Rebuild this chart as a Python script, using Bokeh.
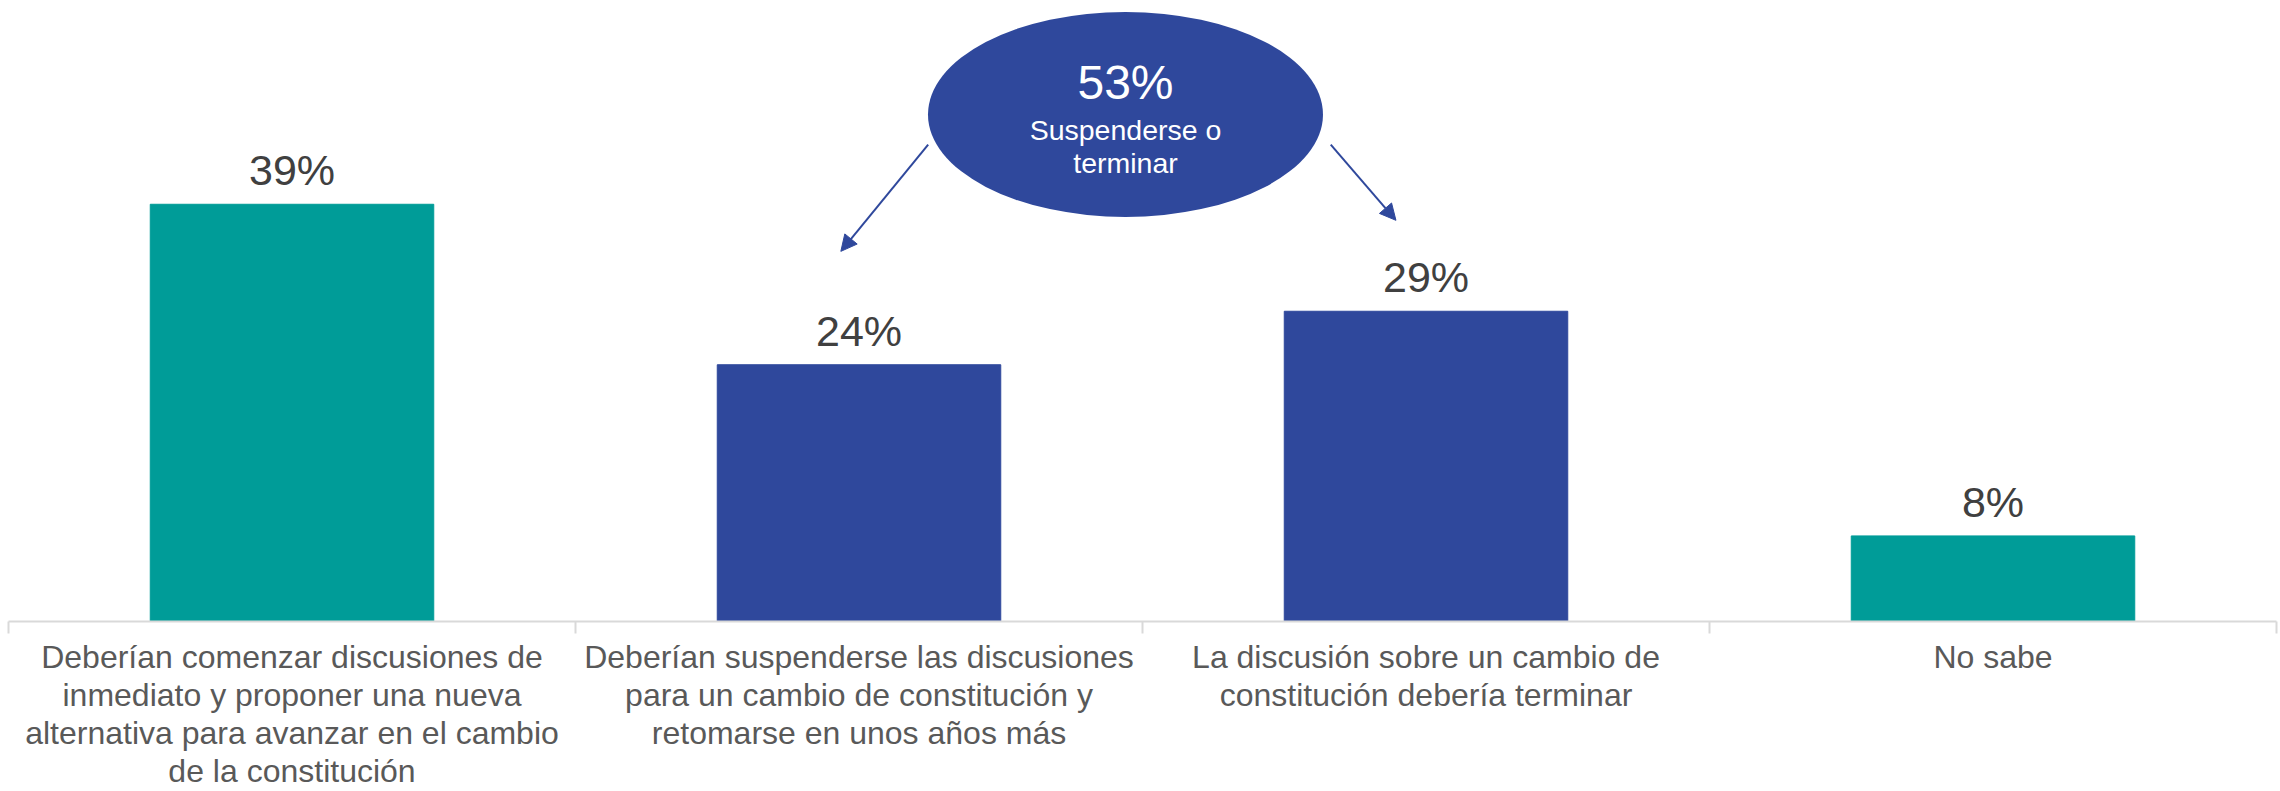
from bokeh.plotting import figure
from bokeh.models import ColumnDataSource, FixedTicker, Range1d, Arrow, NormalHead, LinearAxis
from bokeh.core.properties import value
from bokeh.embed import file_html
from bokeh.resources import INLINE

categories = [
    "Deberían comenzar discusiones de\ninmediato y proponer una nueva\nalternativa para avanzar en el cambio\nde la constitución",
    "Deberían suspenderse las discusiones\npara un cambio de constitución y\nretomarse en unos años más",
    "La discusión sobre un cambio de\nconstitución debería terminar",
    "No sabe",
]
values = [39, 24, 29, 8]
colors = ["#009C98", "#2F489C", "#2F489C", "#009C98"]
suspend_idx = [1, 2]
bubble_title = "Suspenderse o\nterminar"

FONT = "Liberation Sans"
BLUE = "#2F489C"

xs = list(range(len(values)))
src = ColumnDataSource(dict(x=xs, top=values, color=colors,
                            label=[f"{v}%" for v in values]))

p = figure(width=2280, height=791, output_backend="svg", toolbar_location=None,
           x_range=Range1d(-0.5, len(values) - 0.5), y_range=Range1d(0, 57.3),
           min_border_left=8, min_border_right=4, min_border_top=8, min_border_bottom=160,
           x_axis_location=None, y_axis_location=None)
p.outline_line_color = None
p.grid.visible = False
p.background_fill_color = "white"
p.border_fill_color = "white"

p.vbar(x="x", top="top", width=0.5, bottom=0, color="color", source=src)
p.text(x="x", y="top", text="label", source=src, text_align="center",
       text_baseline="bottom", y_offset=-10, text_font=value(FONT),
       text_font_size="43px", text_color="#404040")

ax = LinearAxis()
ax.ticker = FixedTicker(ticks=xs, minor_ticks=[i - 0.5 for i in range(len(values) + 1)])
ax.major_label_overrides = {i: c for i, c in zip(xs, categories)}
ax.axis_line_color = "#D9D9D9"
ax.axis_line_width = 2
ax.major_tick_line_color = None
ax.major_tick_out = 0
ax.major_tick_in = 0
ax.minor_tick_line_color = "#D9D9D9"
ax.minor_tick_line_width = 2
ax.minor_tick_out = 12
ax.minor_tick_in = 0
ax.major_label_standoff = 5
ax.major_label_text_font = FONT
ax.major_label_text_font_size = "32px"
ax.major_label_text_color = "#595959"
ax.major_label_text_line_height = 1.06
p.add_layout(ax, "below")

# bubble summarizing suspend + terminate
cx = sum(suspend_idx) / len(suspend_idx) - 0.03
cy = 47.4
total = sum(values[i] for i in suspend_idx)
p.ellipse(x=[cx], y=[cy], width=395, height=205, width_units="screen",
          height_units="screen", fill_color=BLUE, line_color=None)
p.text(x=[cx], y=[cy], text=[f"{total}%"], y_offset=-32, text_align="center",
       text_baseline="middle", text_font=value(FONT), text_font_size="48px",
       text_color="white")
lines = bubble_title.split("\n")
p.text(x=[cx] * len(lines), y=[cy] * len(lines), text=lines,
       y_offset=[16, 49], text_align="center", text_baseline="middle",
       text_font=value(FONT), text_font_size="28.5px", text_color="white")

for xs0, ys0, xe, ye in [(1.122, 44.57, 0.968, 34.6), (1.832, 44.57, 1.947, 37.5)]:
    p.add_layout(Arrow(end=NormalHead(size=16, fill_color=BLUE, line_color=BLUE),
                       x_start=xs0, y_start=ys0, x_end=xe, y_end=ye,
                       line_color=BLUE, line_width=2))

open("out.html", "w").write(file_html(p, INLINE))
